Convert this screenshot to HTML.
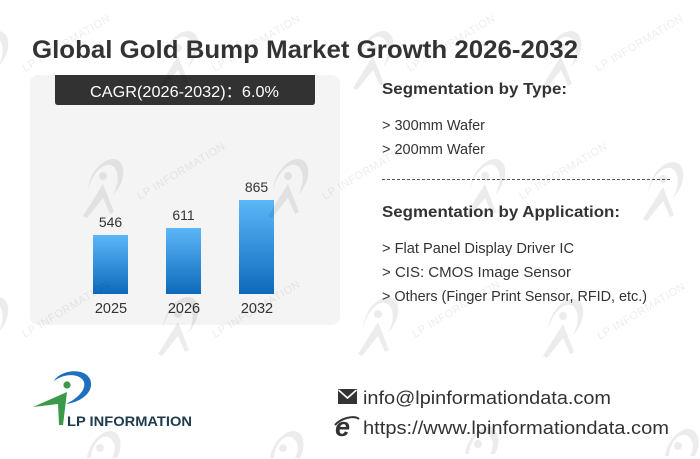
<!DOCTYPE html>
<html><head><meta charset="utf-8"><style>
html,body{margin:0;padding:0;background:#fff;width:700px;height:459px;overflow:hidden;}
svg{display:block;overflow:hidden;}
text{font-family:"Liberation Sans","Noto Sans CJK SC",sans-serif;}
</style></head><body>
<svg width="700" height="459" viewBox="0 0 700 459" xmlns="http://www.w3.org/2000/svg">
<defs>
<linearGradient id="bg" x1="0" y1="0" x2="0" y2="1">
<stop offset="0" stop-color="#5cb7f8"/>
<stop offset="1" stop-color="#0e69bc"/>
</linearGradient>
<clipPath id="cp"><rect width="700" height="459"/></clipPath>
</defs>
<g clip-path="url(#cp)">
<rect width="700" height="459" fill="#fff"/>

<!-- Title -->
<text x="32" y="58" font-size="25" font-weight="bold" fill="#333" textLength="546" lengthAdjust="spacingAndGlyphs">Global Gold Bump Market Growth 2026-2032</text>

<!-- Panel -->
<rect x="30" y="75" width="310" height="250" rx="8" fill="#f4f4f4"/>
<path d="M55,75 H315 V102 Q315,105 312,105 H58 Q55,105 55,102 Z" fill="#323232"/>
<text x="90" y="97" font-size="16" fill="#fff" textLength="189" lengthAdjust="spacingAndGlyphs">CAGR(2026-2032)：6.0%</text>

<!-- Bars -->
<rect x="93" y="235" width="35" height="59" fill="url(#bg)"/>
<rect x="166" y="228" width="35" height="66" fill="url(#bg)"/>
<rect x="239" y="200" width="35" height="94" fill="url(#bg)"/>
<g font-size="14" fill="#333" text-anchor="middle">
<text x="110.5" y="227">546</text>
<text x="183.5" y="220">611</text>
<text x="256.5" y="192">865</text>
</g>
<g font-size="14.5" fill="#333" text-anchor="middle">
<text x="111" y="313">2025</text>
<text x="184" y="313">2026</text>
<text x="257" y="313">2032</text>
</g>

<!-- Right side -->
<text x="382" y="94" font-size="16" font-weight="bold" fill="#333" textLength="185" lengthAdjust="spacingAndGlyphs">Segmentation by Type:</text>
<text x="382" y="130" font-size="14.5" fill="#333">&gt; 300mm Wafer</text>
<text x="382" y="154" font-size="14.5" fill="#333">&gt; 200mm Wafer</text>
<line x1="382" y1="179.5" x2="670" y2="179.5" stroke="#555" stroke-width="1" stroke-dasharray="3,2"/>
<text x="382" y="217" font-size="16" font-weight="bold" fill="#333" textLength="238" lengthAdjust="spacingAndGlyphs">Segmentation by Application:</text>
<text x="382" y="253" font-size="14.5" fill="#333" textLength="192" lengthAdjust="spacingAndGlyphs">&gt; Flat Panel Display Driver IC</text>
<text x="382" y="277" font-size="14.5" fill="#333" textLength="189" lengthAdjust="spacingAndGlyphs">&gt; CIS: CMOS Image Sensor</text>
<text x="382" y="301" font-size="14.5" fill="#333" textLength="265" lengthAdjust="spacingAndGlyphs">&gt; Others (Finger Print Sensor, RFID, etc.)</text>

<!-- Logo -->
<path d="M54,381 C60,370 84,367 90,379 C95,391 82,402 66,404 C78,398 86,390 84,382 C81,374 66,372 54,381 Z" fill="#1f6fc0"/>
<circle cx="67" cy="385" r="3.6" fill="#3a9a4a"/>
<path d="M33,407 L67,392 L63,425 L59,425 L58,404 Z" fill="#3a9a4a"/>
<text x="67" y="426" font-size="14" font-weight="bold" fill="#1e3a4c" textLength="125" lengthAdjust="spacingAndGlyphs">LP INFORMATION</text>

<!-- Contact -->
<rect x="338" y="389" width="19" height="15" fill="#333"/>
<path d="M338.5,390 L347.5,398 L356.5,390" fill="none" stroke="#fff" stroke-width="1.6"/>
<text x="335" y="436" font-size="27" font-weight="bold" font-style="italic" fill="#333">e</text>
<path d="M335,425 C341,418 354,415 359,419" fill="none" stroke="#333" stroke-width="2"/>
<text x="363" y="404" font-size="18" fill="#333" textLength="248" lengthAdjust="spacingAndGlyphs">info@lpinformationdata.com</text>
<text x="363" y="434" font-size="18" fill="#333" textLength="306" lengthAdjust="spacingAndGlyphs">https://www.lpinformationdata.com</text>

<!-- Watermarks -->
<g fill="#000" fill-opacity="0.075">
<g transform="translate(25,72)"><circle cx="-37" cy="-24" r="4"/><path d="M-52,-10 C-50,-35 -25,-50 -18,-35 C-14,-25 -20,-12 -27,-5 C-22,-14 -20,-26 -26,-33 C-33,-40 -47,-30 -52,-10Z"/><path d="M-57,16 L-37,-16 L-26,12 L-30,14 L-37,-2 L-53,18Z"/><text transform="rotate(-31)" font-size="11" textLength="100">LP INFORMATION</text></g>
<g transform="translate(215,72)"><circle cx="-37" cy="-24" r="4"/><path d="M-52,-10 C-50,-35 -25,-50 -18,-35 C-14,-25 -20,-12 -27,-5 C-22,-14 -20,-26 -26,-33 C-33,-40 -47,-30 -52,-10Z"/><path d="M-57,16 L-37,-16 L-26,12 L-30,14 L-37,-2 L-53,18Z"/><text transform="rotate(-31)" font-size="11" textLength="100">LP INFORMATION</text></g>
<g transform="translate(410,72)"><circle cx="-37" cy="-24" r="4"/><path d="M-52,-10 C-50,-35 -25,-50 -18,-35 C-14,-25 -20,-12 -27,-5 C-22,-14 -20,-26 -26,-33 C-33,-40 -47,-30 -52,-10Z"/><path d="M-57,16 L-37,-16 L-26,12 L-30,14 L-37,-2 L-53,18Z"/><text transform="rotate(-31)" font-size="11" textLength="100">LP INFORMATION</text></g>
<g transform="translate(598,72)"><circle cx="-37" cy="-24" r="4"/><path d="M-52,-10 C-50,-35 -25,-50 -18,-35 C-14,-25 -20,-12 -27,-5 C-22,-14 -20,-26 -26,-33 C-33,-40 -47,-30 -52,-10Z"/><path d="M-57,16 L-37,-16 L-26,12 L-30,14 L-37,-2 L-53,18Z"/><text transform="rotate(-31)" font-size="11" textLength="100">LP INFORMATION</text></g>
<g transform="translate(140,200)"><circle cx="-37" cy="-24" r="4"/><path d="M-52,-10 C-50,-35 -25,-50 -18,-35 C-14,-25 -20,-12 -27,-5 C-22,-14 -20,-26 -26,-33 C-33,-40 -47,-30 -52,-10Z"/><path d="M-57,16 L-37,-16 L-26,12 L-30,14 L-37,-2 L-53,18Z"/><text transform="rotate(-31)" font-size="11" textLength="100">LP INFORMATION</text></g>
<g transform="translate(325,200)"><circle cx="-37" cy="-24" r="4"/><path d="M-52,-10 C-50,-35 -25,-50 -18,-35 C-14,-25 -20,-12 -27,-5 C-22,-14 -20,-26 -26,-33 C-33,-40 -47,-30 -52,-10Z"/><path d="M-57,16 L-37,-16 L-26,12 L-30,14 L-37,-2 L-53,18Z"/><text transform="rotate(-31)" font-size="11" textLength="100">LP INFORMATION</text></g>
<g transform="translate(522,200)"><circle cx="-37" cy="-24" r="4"/><path d="M-52,-10 C-50,-35 -25,-50 -18,-35 C-14,-25 -20,-12 -27,-5 C-22,-14 -20,-26 -26,-33 C-33,-40 -47,-30 -52,-10Z"/><path d="M-57,16 L-37,-16 L-26,12 L-30,14 L-37,-2 L-53,18Z"/><text transform="rotate(-31)" font-size="11" textLength="100">LP INFORMATION</text></g>
<g transform="translate(700,203)"><circle cx="-37" cy="-24" r="4"/><path d="M-52,-10 C-50,-35 -25,-50 -18,-35 C-14,-25 -20,-12 -27,-5 C-22,-14 -20,-26 -26,-33 C-33,-40 -47,-30 -52,-10Z"/><path d="M-57,16 L-37,-16 L-26,12 L-30,14 L-37,-2 L-53,18Z"/></g>
<g transform="translate(25,338)"><circle cx="-37" cy="-24" r="4"/><path d="M-52,-10 C-50,-35 -25,-50 -18,-35 C-14,-25 -20,-12 -27,-5 C-22,-14 -20,-26 -26,-33 C-33,-40 -47,-30 -52,-10Z"/><path d="M-57,16 L-37,-16 L-26,12 L-30,14 L-37,-2 L-53,18Z"/><text transform="rotate(-31)" font-size="11" textLength="100">LP INFORMATION</text></g>
<g transform="translate(215,338)"><circle cx="-37" cy="-24" r="4"/><path d="M-52,-10 C-50,-35 -25,-50 -18,-35 C-14,-25 -20,-12 -27,-5 C-22,-14 -20,-26 -26,-33 C-33,-40 -47,-30 -52,-10Z"/><path d="M-57,16 L-37,-16 L-26,12 L-30,14 L-37,-2 L-53,18Z"/><text transform="rotate(-31)" font-size="11" textLength="100">LP INFORMATION</text></g>
<g transform="translate(415,338)"><circle cx="-37" cy="-24" r="4"/><path d="M-52,-10 C-50,-35 -25,-50 -18,-35 C-14,-25 -20,-12 -27,-5 C-22,-14 -20,-26 -26,-33 C-33,-40 -47,-30 -52,-10Z"/><path d="M-57,16 L-37,-16 L-26,12 L-30,14 L-37,-2 L-53,18Z"/><text transform="rotate(-31)" font-size="11" textLength="100">LP INFORMATION</text></g>
<g transform="translate(600,340)"><circle cx="-37" cy="-24" r="4"/><path d="M-52,-10 C-50,-35 -25,-50 -18,-35 C-14,-25 -20,-12 -27,-5 C-22,-14 -20,-26 -26,-33 C-33,-40 -47,-30 -52,-10Z"/><path d="M-57,16 L-37,-16 L-26,12 L-30,14 L-37,-2 L-53,18Z"/><text transform="rotate(-31)" font-size="11" textLength="100">LP INFORMATION</text></g>
<g transform="translate(137,472)"><circle cx="-37" cy="-24" r="4"/><path d="M-50,-14 C-47,-35 -25,-50 -18,-35 C-15,-28 -17,-20 -20,-14 L-25,-14 C-21,-22 -21,-28 -26,-33 C-33,-40 -45,-30 -46,-14 Z"/></g>
<g transform="translate(320,472)"><circle cx="-37" cy="-24" r="4"/><path d="M-50,-14 C-47,-35 -25,-50 -18,-35 C-15,-28 -17,-20 -20,-14 L-25,-14 C-21,-22 -21,-28 -26,-33 C-33,-40 -45,-30 -46,-14 Z"/></g>
<g transform="translate(515,468)"><circle cx="-37" cy="-24" r="4"/><path d="M-50,-14 C-47,-35 -25,-50 -18,-35 C-15,-28 -17,-20 -20,-14 L-25,-14 C-21,-22 -21,-28 -26,-33 C-33,-40 -45,-30 -46,-14 Z"/></g>
<g transform="translate(715,470)"><circle cx="-37" cy="-24" r="4"/><path d="M-50,-14 C-47,-35 -25,-50 -18,-35 C-15,-28 -17,-20 -20,-14 L-25,-14 C-21,-22 -21,-28 -26,-33 C-33,-40 -45,-30 -46,-14 Z"/></g>
</g>
</g>
</svg>
</body></html>
